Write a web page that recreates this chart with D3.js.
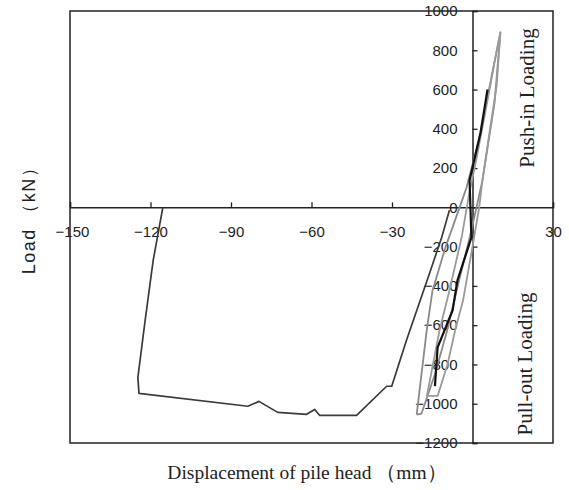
<!DOCTYPE html>
<html>
<head>
<meta charset="utf-8">
<script src="https://cdn.jsdelivr.net/npm/d3@7"></script>
<style>
  body { margin: 0; background: #fff; }
  .tick text { font-family: "Liberation Sans", Arial, sans-serif; font-size: 15px; fill: #222; }
</style>
</head>
<body>
<script>
// axis ticks
var xTicks = [-150, -120, -90, -60, -30, 30];
var yTicks = [1000, 800, 600, 400, 200, 0, -200, -400, -600, -800, -1000, -1200];

// big pull-out cycle (envelope)
var envDisp = [-115.4, -119, -122, -124.7, -124.3, -83.7, -79.6, -72.6, -61.8, -58.8, -57, -43.2, -32, -30.1, -24.6, -16, -11.5, -8.6];
var envLoad = [0, -270, -575, -866, -947, -1013, -988, -1044, -1054, -1029, -1059, -1059, -911, -911, -677, -336, -153, -15];

// dark unloading branch
var darkDisp = [5.6, 3, -1.1, -0.4, -5.6, -7.4, -13, -14];
var darkLoad = [600, 380, 137, -153, -372, -524, -713, -910];

// gray cycles
var loopADisp = [-20.8, -17.1, -14.9, -10, -4.8, -2.2, 2.5, 6.3, 10.4, 8.2, 3.7, 1.5, -1, -5.9, -9.5, -14, -19, -20.8];
var loopALoad = [-1055, -630, -423, -200, 0, 102, 350, 611, 891, 530, 137, 0, -150, -423, -630, -850, -1050, -1055];

var loopBDisp = [-17, -12.3, -8.6, -4, -1.5, 1.5, 5, 8.5, 10.4, 9, 6, 3.7, 2.5, 0, -3.5, -6.5, -9.3, -13, -17];
var loopBLoad = [-960, -627, -423, -150, 50, 250, 500, 760, 891, 620, 350, 137, 0, -200, -473, -627, -800, -960, -960];

var W = 569, H = 490;
var margin = {top: 11, right: 16, bottom: 47, left: 70};
var width = W - margin.left - margin.right;
var height = H - margin.top - margin.bottom;

var svg = d3.select("body").append("svg")
    .attr("width", W)
    .attr("height", H);

var g = svg.append("g")
    .attr("transform", "translate(" + margin.left + "," + margin.top + ")");

var x = d3.scaleLinear().domain([-150, 30]).range([0, width]);
var y = d3.scaleLinear().domain([-1200, 1000]).range([height, 0]);

// frame
g.append("rect")
    .attr("x", 0).attr("y", 0)
    .attr("width", width).attr("height", height)
    .attr("fill", "none")
    .attr("stroke", "#222")
    .attr("stroke-width", 1.5);

// x axis through load = 0, ticks point up
var xAxis = g.append("g")
    .attr("transform", "translate(0," + y(0) + ")")
    .call(d3.axisBottom(x).tickValues(xTicks).tickFormat(d3.format("d")).tickSize(-5).tickPadding(19));

// y axis through displacement = 0, ticks point right
var yAxis = g.append("g")
    .attr("transform", "translate(" + x(0) + ",0)")
    .call(d3.axisLeft(y).tickValues(yTicks).tickFormat(d3.format("d")).tickSize(-5).tickPadding(15));

[xAxis, yAxis].forEach(function(a) {
    a.select(".domain").attr("stroke", "#222").attr("stroke-width", 1.5);
    a.selectAll(".tick line").attr("stroke", "#222").attr("stroke-width", 1.3);
});
xAxis.selectAll(".tick text").filter(function(d) { return d === -150; }).attr("dx", 2);

var line = d3.line()
    .x(function(d) { return x(d[0]); })
    .y(function(d) { return y(d[1]); });

function pairs(xs, ys) {
    return xs.map(function(v, i) { return [v, ys[i]]; });
}

var series = [
    {pts: pairs(loopADisp, loopALoad), color: "#8a8a8a", w: 1.8},
    {pts: pairs(loopBDisp, loopBLoad), color: "#9a9a9a", w: 1.8},
    {pts: pairs(envDisp, envLoad), color: "#3a3a3a", w: 1.7},
    {pts: pairs(darkDisp, darkLoad), color: "#111", w: 2.2}
];

g.selectAll(".curve")
    .data(series)
    .enter()
    .append("path")
    .attr("class", "curve")
    .attr("d", function(d) { return line(d.pts); })
    .attr("fill", "none")
    .attr("stroke", function(d) { return d.color; })
    .attr("stroke-width", function(d) { return d.w; })
    .attr("stroke-linejoin", "round");

// side labels
g.append("text")
    .attr("transform", "translate(" + (527 - margin.left) + "," + (98 - margin.top) + ") rotate(-90)")
    .attr("text-anchor", "middle")
    .attr("dominant-baseline", "central")
    .style("font-family", "'Liberation Serif', 'Times New Roman', serif")
    .style("font-size", "21px")
    .attr("fill", "#222")
    .text("Push-in Loading");

g.append("text")
    .attr("transform", "translate(" + (525 - margin.left) + "," + (364 - margin.top) + ") rotate(-90)")
    .attr("text-anchor", "middle")
    .attr("dominant-baseline", "central")
    .style("font-family", "'Liberation Serif', 'Times New Roman', serif")
    .style("font-size", "21px")
    .attr("fill", "#222")
    .text("Pull-out Loading");

// axis titles
svg.append("text")
    .attr("x", 307)
    .attr("y", 479)
    .attr("text-anchor", "middle")
    .style("font-family", "'Liberation Serif', 'Times New Roman', serif")
    .style("font-size", "19.5px")
    .attr("fill", "#222")
    .text("Displacement of pile head （mm）");

svg.append("text")
    .attr("transform", "translate(35,216) rotate(-90)")
    .attr("text-anchor", "middle")
    .style("font-family", "'Liberation Sans', Arial, sans-serif")
    .style("font-size", "18px")
    .style("letter-spacing", "1.5px")
    .attr("fill", "#222")
    .text("Load （kN）");
</script>
</body>
</html>
